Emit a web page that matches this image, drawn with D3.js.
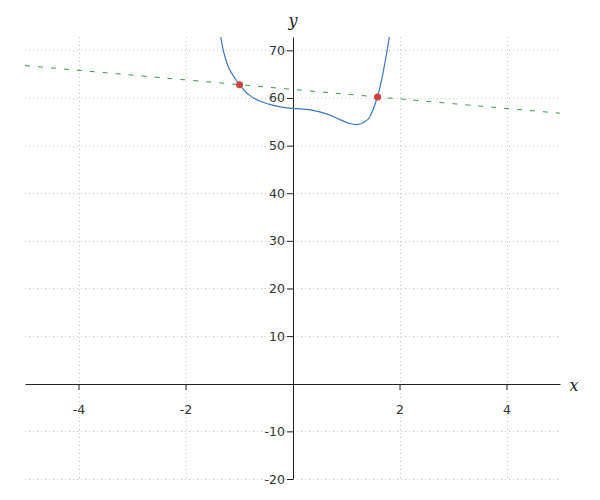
<!DOCTYPE html>
<html>
<head>
<meta charset="utf-8">
<script src="https://cdn.jsdelivr.net/npm/d3@7"></script>
<style>
  body { margin: 0; background: #fff; }
  svg { display: block; font-family: "DejaVu Sans", sans-serif; }
</style>
</head>
<body>
<svg id="chart" width="600" height="500"></svg>
<script>
// Data
const curveX = [-1.34, -1.29, -1.19, -0.99, -0.82, -0.6, -0.3, 0, 0.34, 0.65, 0.9, 1.05, 1.21, 1.35, 1.43, 1.59, 1.71, 1.81];
const curveY = [72.8, 69.8, 66.3, 62.8, 60.7, 59.3, 58.3, 57.8, 57.5, 56.6, 55.4, 54.7, 54.4, 55.0, 55.8, 60.3, 66.3, 72.8];
const lineX = [-5, 5];
const lineY = [66.8, 56.8];
const dotX = [-0.99, 1.59];
const dotY = [62.8, 60.2];
const xTicks = [-4, -2, 2, 4];
const yTicks = [-20, -10, 10, 20, 30, 40, 50, 60, 70];

const svg = d3.select("#chart");
const x = d3.scaleLinear().domain([-5, 5]).range([25, 560]);
const y = d3.scaleLinear().domain([-20, 72.8]).range([479, 37]);

svg.append("defs").append("clipPath").attr("id", "clip")
  .append("rect").attr("x", 25).attr("y", 37).attr("width", 535).attr("height", 442);

// grid
const grid = svg.append("g").attr("stroke", "#c8c8c8").attr("stroke-width", 1).attr("stroke-dasharray", "1,3");
grid.selectAll("line.v").data(xTicks).join("line").attr("class", "v")
  .attr("x1", d => Math.round(x(d)) + 0.5).attr("x2", d => Math.round(x(d)) + 0.5)
  .attr("y1", y.range()[1]).attr("y2", y.range()[0]);
grid.selectAll("line.h").data(yTicks).join("line").attr("class", "h")
  .attr("y1", d => Math.round(y(d)) + 0.5).attr("y2", d => Math.round(y(d)) + 0.5)
  .attr("x1", x.range()[0]).attr("x2", x.range()[1]);

// axes
const fmt = d => String(d);
const xAxis = d3.axisBottom(x).tickValues(xTicks).tickFormat(fmt).tickSize(6).tickSizeOuter(0).tickPadding(15);
const yAxis = d3.axisLeft(y).tickValues(yTicks).tickFormat(fmt).tickSize(6).tickSizeOuter(0).tickPadding(2);

const gx = svg.append("g").attr("transform", `translate(0,${Math.round(y(0))})`).call(xAxis);
const gy = svg.append("g").attr("transform", `translate(${Math.round(x(0))},0)`).call(yAxis);
[gx, gy].forEach(g => {
  g.select(".domain").attr("stroke", "#222");
  g.selectAll(".tick line").attr("stroke", "#222");
  g.selectAll(".tick text").attr("fill", "#333").attr("font-size", 12.5).attr("font-family", "DejaVu Sans, sans-serif");
});

svg.append("text").attr("x", 574).attr("y", Math.round(y(0)) + 7)
  .attr("font-family", "DejaVu Serif, serif").attr("font-style", "italic").attr("font-size", 16)
  .attr("text-anchor", "middle").attr("fill", "#222").text("x");
svg.append("text").attr("x", Math.round(x(0))).attr("y", 26)
  .attr("font-family", "DejaVu Serif, serif").attr("font-style", "italic").attr("font-size", 16)
  .attr("text-anchor", "middle").attr("fill", "#222").text("y");

const plot = svg.append("g").attr("clip-path", "url(#clip)");

// dashed line
plot.append("path")
  .datum(lineX.map((d, i) => [d, lineY[i]]))
  .attr("d", d3.line().x(d => x(d[0])).y(d => y(d[1])))
  .attr("fill", "none").attr("stroke", "#3c9a4c").attr("stroke-width", 1).attr("stroke-dasharray", "5,8");

// curve
plot.append("path")
  .datum(curveX.map((d, i) => [d, curveY[i]]))
  .attr("d", d3.line().x(d => x(d[0])).y(d => y(d[1])).curve(d3.curveCatmullRom.alpha(0.5)))
  .attr("fill", "none").attr("stroke", "#3a78c0").attr("stroke-width", 1.2);

// dots
svg.append("g").selectAll("circle").data(dotX.map((d, i) => [d, dotY[i]])).join("circle")
  .attr("cx", d => x(d[0])).attr("cy", d => y(d[1])).attr("r", 3.5)
  .attr("fill", "#d0413c");
</script>
</body>
</html>
